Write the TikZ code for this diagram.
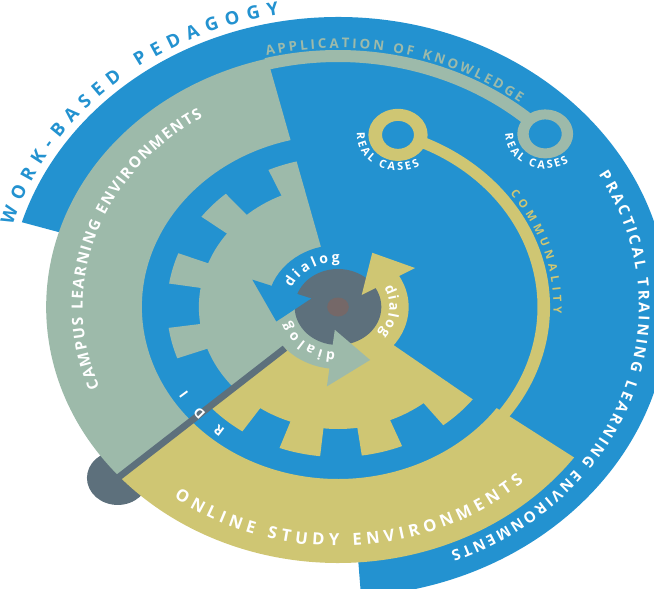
\documentclass[tikz,border=0pt]{standalone}
\usepackage{fontspec}
\setmainfont{Open Sans}
\usetikzlibrary{decorations.text}

\definecolor{wbblue}{HTML}{2392D0}
\definecolor{wbsage}{HTML}{9DBAAA}
\definecolor{wbgold}{HTML}{CFC673}
\definecolor{wbslate}{HTML}{5D707C}
\definecolor{wbhub}{HTML}{756868}

\tikzset{
    ringpart/.style n args={4}{insert path={(#1:#3) arc[start angle=#1, end angle=#2, radius=#3] -- (#2:#4) arc[start angle=#2, end angle=#1, radius=#4] -- cycle}},
    arclabel/.style n args={3}{decorate, decoration={text along path, text align={fit to path}, text color=#1, text={|\bfseries\fontsize{#2}{#2}\selectfont|#3}}},
    hole/.style={even odd rule},
}

\begin{document}
\begin{tikzpicture}[x={(0.855pt,0)}, y={(0,0.75pt)}]
    \useasboundingbox (-296.49,-281) rectangle (277.19,307);
    \clip (-296.49,-281) rectangle (277.19,307);

    \coordinate (hub) at (0,0);
    \coordinate (caseGold) at (73:180);
    \coordinate (caseSage) at (43.6:251);
    \coordinate (rdiIn) at (221.5:62);
    \coordinate (rdiOut) at (221.5:258);

    % outer rings
    \fill[wbslate] (rdiOut) circle[radius=27];
    \fill[wbblue] (hub) -- (-86:290) arc[start angle=-86, end angle=163, radius=290] -- cycle;
    \fill[wbblue] (hub) circle[radius=173];
    \fill[wbsage, ringpart={104}{221.5}{172}{256}];
    \fill[wbgold, ringpart={221.5}{324}{172}{256}];
    \fill[wbsage, ringpart={48}{104.5}{245}{257}];
    \fill[wbsage, hole] (caseSage) circle[radius=24.5] (caseSage) circle[radius=14.5];
    \fill[wbgold, ringpart={-40}{67}{175}{186}];
    \fill[wbgold, hole] (caseGold) circle[radius=26] (caseGold) circle[radius=14];

    % gears
    \fill[wbsage] (hub) -- (104:122) arc[start angle=104, end angle=221.5, radius=122] -- cycle;
    \foreach \a/\b in {104/114, 131/143, 159/171, 188/200}
        \fill[wbsage, ringpart={\a}{\b}{121}{150}];
    \fill[wbgold] (hub) -- (221.5:122) arc[start angle=221.5, end angle=322, radius=122] -- cycle;
    \foreach \a/\b in {221.5/236, 250/264, 278/292, 308/322}
        \fill[wbgold, ringpart={\a}{\b}{121}{150}];

    \draw[wbslate, line width=5pt] (rdiIn) -- (rdiOut);

    % dialog arrows
    \fill[wbblue, ringpart={85}{161}{36}{62}];
    \fill[wbsage, ringpart={205}{264}{36}{62}];
    \fill[wbgold, ringpart={-45}{31}{36}{62}];
    \fill[wbslate] (hub) circle[radius=38];
    \fill[wbblue] (160:25) -- (160:80) -- (195:56) -- cycle;
    \fill[wbsage] (263:23) -- (263:80) -- (298:60) -- cycle;
    \fill[wbgold] (30:24) -- (30:78) -- (61:62) -- cycle;
    \fill[wbhub] (hub) circle[radius=9.5];

    % labels
    \path[arclabel={wbblue}{13.7pt}{WORK-BASED PEDAGOGY}] (164:297) arc[start angle=164, end angle=100, radius=297];
    \path[arclabel={wbsage}{10pt}{APPLICATION OF KNOWLEDGE}] (104:259) arc[start angle=104, end angle=52, radius=259];
    \path[arclabel={white}{11.3pt}{PRACTICAL TRAINING LEARNING ENVIRONMENTS}] (30:264) arc[start angle=30, end angle=-68, radius=264];
    \path[arclabel={white}{11.5pt}{CAMPUS LEARNING ENVIRONMENTS}] (201:224) arc[start angle=201, end angle=122, radius=224];
    \path[arclabel={white}{12.5pt}{ONLINE STUDY ENVIRONMENTS}] (233:239) arc[start angle=233, end angle=313, radius=239];
    \path[arclabel={wbgold}{8.5pt}{COMMUNALITY}] (37:189) arc[start angle=37, end angle=-2, radius=189];
    \path[arclabel={white}{8.3pt}{REAL CASES}, shift={(caseGold)}] (176:36) arc[start angle=176, end angle=302, radius=36];
    \path[arclabel={white}{8.3pt}{REAL CASES}, shift={(caseSage)}] (180:35) arc[start angle=180, end angle=306, radius=35];
    \path[arclabel={white}{10pt}{R D I}] (231:157) arc[start angle=231, end angle=212, radius=157];
    \path[arclabel={white}{10.5pt}{dialog}] (155:45) arc[start angle=155, end angle=88, radius=45];
    \path[arclabel={white}{10.5pt}{dialog}] (267:45) arc[start angle=267, end angle=198, radius=45];
    \path[arclabel={white}{10.5pt}{dialog}] (26:45) arc[start angle=26, end angle=-37, radius=45];
\end{tikzpicture}
\end{document}
